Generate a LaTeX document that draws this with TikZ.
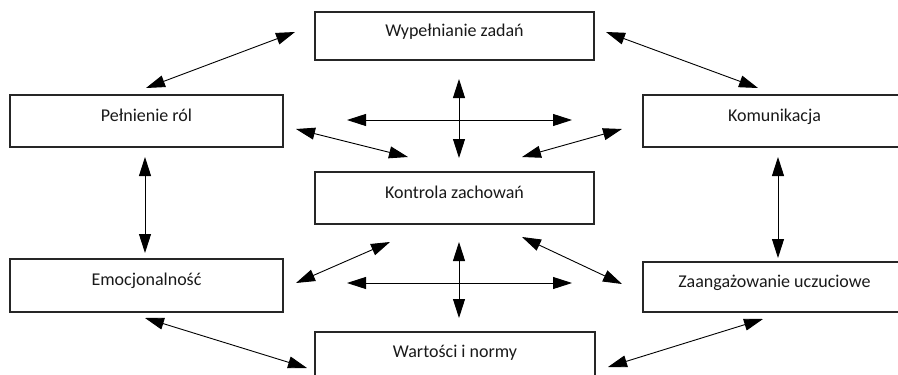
\documentclass[tikz,border=0pt]{standalone}
\usepackage{fontspec}
\setmainfont{Carlito}
\usetikzlibrary{arrows.meta}
\tikzset{
  box/.style={draw=black!85, line width=1.2pt, rectangle, inner sep=0pt},
  lbl/.style={anchor=base, inner sep=0pt, font=\fontsize{18}{21}\selectfont, text=black!90},
  link/.style={line width=0.9pt, {Triangle[length=19pt,width=12pt]}-{Triangle[length=19pt,width=12pt]}}
}
\begin{document}
\begin{tikzpicture}[x=1pt, y=-1pt]
\useasboundingbox (0,0) rectangle (898,375);

% boxes (the right column and the bottom box run past the page edge)
\node[box, minimum width=279pt, minimum height=48pt] (zad) at (454.5,36) {};
\node[box, minimum width=273pt, minimum height=52pt] (rol) at (146.5,121) {};
\node[box, minimum width=263pt, minimum height=52pt] (kom) at (774.5,121) {};
\node[box, minimum width=279pt, minimum height=52pt] (kon) at (454.5,198) {};
\node[box, minimum width=273pt, minimum height=53pt] (emo) at (146.5,285.5) {};
\node[box, minimum width=263pt, minimum height=50pt] (zaa) at (774.5,287) {};
\node[box, minimum width=280pt, minimum height=50pt] (war) at (455,357) {};

% texts, baseline on the box centre
\node[lbl] (tzad) at (zad.center) {Wypełnianie zadań};
\node[lbl] (trol) at (rol.center) {Pełnienie ról};
\node[lbl] (tkom) at (kom.center) {Komunikacja};
\node[lbl] (tkon) at (kon.center) {Kontrola zachowań};
\node[lbl] (temo) at (emo.center) {Emocjonalność};
\node[lbl] (tzaa) at (zaa.center) {Zaangażowanie uczuciowe};
\node[lbl] (twar) at (war.center) {Wartości i normy};

% arrow end points
\coordinate (rolA) at (146,88);   \coordinate (zadA) at (295,32);
\coordinate (zadB) at (606,32);   \coordinate (komA) at (758,88);
\coordinate (rolB) at (296,129);  \coordinate (konA) at (408,157);
\coordinate (komB) at (622,129);  \coordinate (konB) at (522,157);
\coordinate (upT)  at (459,79);   \coordinate (upB)  at (459,158);
\coordinate (upL)  at (347,120);  \coordinate (upR)  at (572,120);
\coordinate (rolC) at (145,157);  \coordinate (emoA) at (145,253);
\coordinate (komC) at (778,157);  \coordinate (zaaA) at (778,258);
\coordinate (konC) at (390,242);  \coordinate (emoB) at (296,283);
\coordinate (konD) at (522,237);  \coordinate (zaaB) at (622,284);
\coordinate (loT)  at (459,242);  \coordinate (loB)  at (459,318);
\coordinate (loL)  at (347,283);  \coordinate (loR)  at (572,283);
\coordinate (emoC) at (145,318);  \coordinate (warA) at (307,368);
\coordinate (zaaC) at (763,319);  \coordinate (warB) at (608,367);

% connectors
\draw[link] (rolA) -- (zadA);
\draw[link] (zadB) -- (komA);
\draw[link] (rolB) -- (konA);
\draw[link] (komB) -- (konB);
\draw[link] (upT) -- (upB);
\draw[link] (upL) -- (upR);
\draw[link] (rolC) -- (emoA);
\draw[link] (komC) -- (zaaA);
\draw[link] (konC) -- (emoB);
\draw[link] (konD) -- (zaaB);
\draw[link] (loT) -- (loB);
\draw[link] (loL) -- (loR);
\draw[link] (emoC) -- (warA);
\draw[link] (zaaC) -- (warB);
\end{tikzpicture}
\end{document}
